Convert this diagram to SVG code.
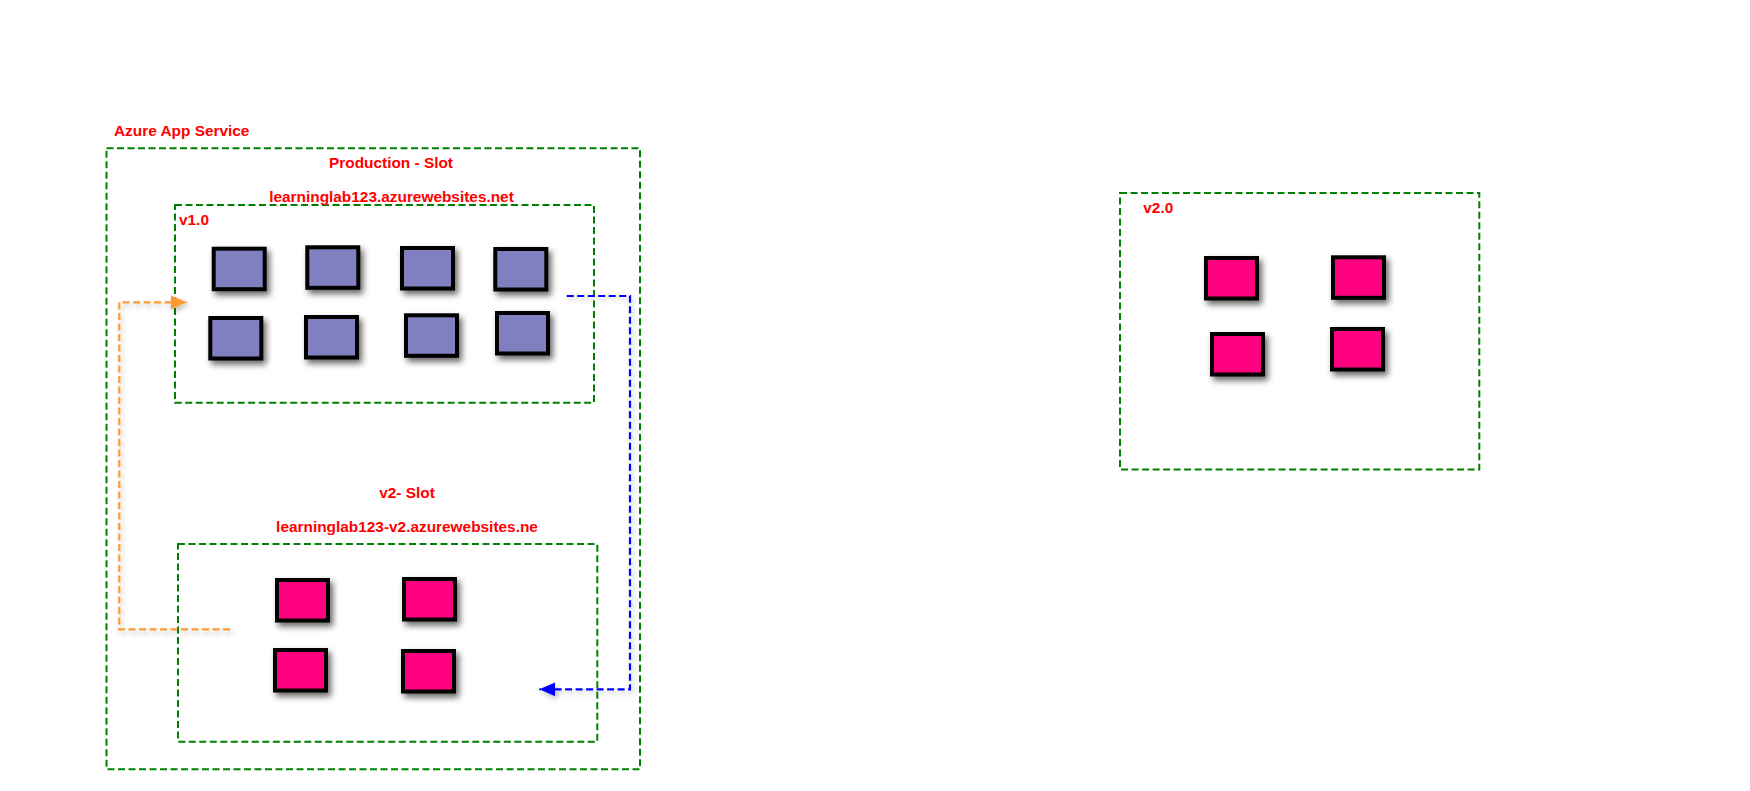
<svg xmlns="http://www.w3.org/2000/svg" width="1750" height="791" viewBox="0 0 1750 791">
<defs>
<style>
.lbl{font-family:"Liberation Sans",Arial,sans-serif;font-weight:bold;font-size:15.4px;fill:#FF0000}
.box{fill:none;stroke:#008000;stroke-width:2;stroke-dasharray:7 3.5}
.sq{stroke:#000;stroke-width:4;filter:url(#sh)}
.v1{fill:#8080C0}
.v2{fill:#FF0080}
.con{fill:none;stroke-width:2.2;stroke-dasharray:7 3.5;filter:url(#lsh)}
</style>
<filter id="sh" x="-30%" y="-30%" width="170%" height="170%">
<feDropShadow dx="3" dy="4" stdDeviation="3" flood-color="#000" flood-opacity="0.6"/>
</filter>
<filter id="lsh" x="-20%" y="-20%" width="140%" height="140%">
<feDropShadow dx="2" dy="3" stdDeviation="2.5" flood-color="#000" flood-opacity="0.25"/>
</filter>
<marker id="aOr" markerUnits="userSpaceOnUse" markerWidth="18" markerHeight="16" refX="16" refY="7" orient="auto">
<path d="M0,0 L16,7 L0,14 Z" fill="#FF9933"/>
</marker>
<marker id="aBl" markerUnits="userSpaceOnUse" markerWidth="18" markerHeight="16" refX="16" refY="7" orient="auto">
<path d="M0,0 L16,7 L0,14 Z" fill="#0000FF"/>
</marker>
</defs>
<rect width="1750" height="791" fill="#FFFFFF"/>

<g id="azure-app-service">
<rect class="box" x="106.5" y="148.3" width="533.5" height="621"/>
<text class="lbl" x="114" y="136">Azure App Service</text>
<text class="lbl" x="391" y="168.3" text-anchor="middle">Production - Slot</text>
</g>

<g id="production-slot">
<rect class="box" x="175" y="205" width="419" height="197.7"/>
<text class="lbl" x="391.5" y="202.3" text-anchor="middle">learninglab123.azurewebsites.net</text>
<text class="lbl" x="179" y="225">v1.0</text>
<rect class="sq v1" x="213.7" y="248.7" width="51" height="40.5"/>
<rect class="sq v1" x="307.3" y="247.3" width="51" height="40.5"/>
<rect class="sq v1" x="402" y="248" width="51" height="40.5"/>
<rect class="sq v1" x="495.3" y="249" width="51" height="40.5"/>
<rect class="sq v1" x="210.3" y="318" width="51" height="40.5"/>
<rect class="sq v1" x="306" y="317" width="51" height="40.5"/>
<rect class="sq v1" x="406" y="315.3" width="51" height="40.5"/>
<rect class="sq v1" x="497" y="313" width="51" height="40.5"/>
</g>

<g id="v2-slot">
<text class="lbl" x="407" y="497.7" text-anchor="middle">v2- Slot</text>
<text class="lbl" x="407" y="532.3" text-anchor="middle">learninglab123-v2.azurewebsites.ne</text>
<rect class="box" x="178" y="544" width="419.3" height="197.7"/>
<rect class="sq v2" x="277" y="580" width="51" height="40.5"/>
<rect class="sq v2" x="404" y="579" width="51" height="40.5"/>
<rect class="sq v2" x="275" y="650" width="51" height="40.5"/>
<rect class="sq v2" x="403" y="651" width="51" height="40.5"/>
</g>

<g id="v2-0">
<rect class="box" x="1120" y="193" width="359.3" height="276.5"/>
<text class="lbl" x="1143.3" y="213.3">v2.0</text>
<rect class="sq v2" x="1206" y="258" width="51" height="40.5"/>
<rect class="sq v2" x="1333" y="257.3" width="51" height="40.5"/>
<rect class="sq v2" x="1212" y="334" width="51" height="40.5"/>
<rect class="sq v2" x="1332" y="329" width="51" height="40.5"/>
</g>

<g id="connectors">
<path class="con" stroke="#FF9933" d="M230,629.3 L119.3,629.3 L119.3,302.3 L186.7,302.3" marker-end="url(#aOr)"/>
<path class="con" stroke="#0000FF" d="M566.7,296 L630,296 L630,689.3 L539.3,689.3" marker-end="url(#aBl)"/>
</g>
</svg>
